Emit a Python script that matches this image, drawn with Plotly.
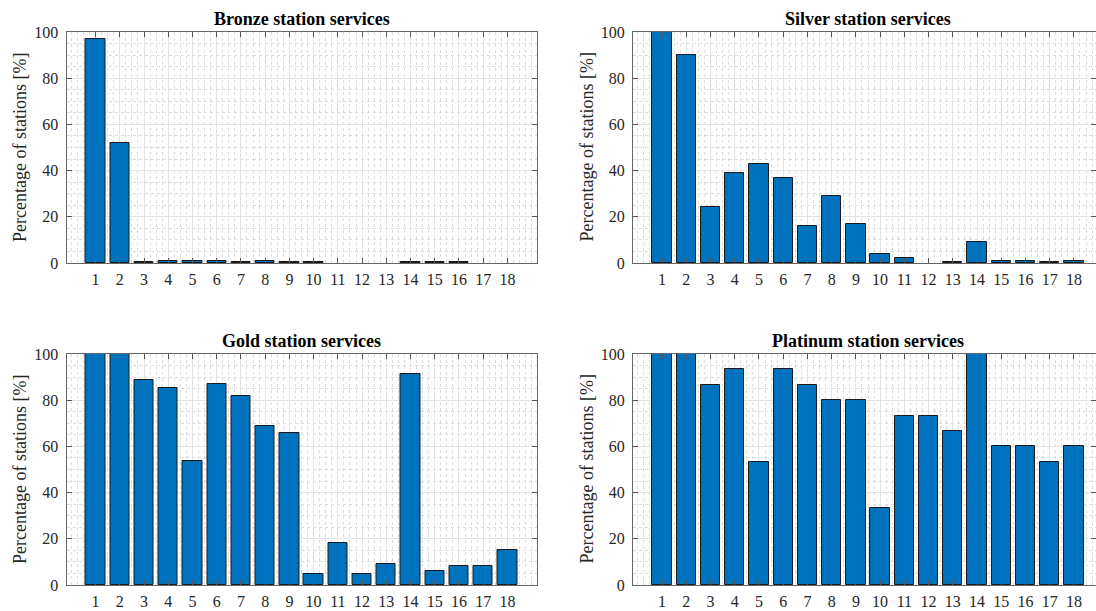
import plotly.graph_objects as go
from plotly.subplots import make_subplots

services = list(range(1, 19))
tick_labels = [str(i) for i in services]

bronze = [97, 52, 0.3, 1, 1, 1, 0.3, 1, 0.3, 0.3, 0, 0, 0, 0.3, 0.3, 0.3, 0, 0]
silver = [100, 90, 24.2, 38.8, 42.7, 36.8, 16.0, 29.1, 16.9, 3.9, 2.0, 0, 0.3, 8.9, 1.0, 1.0, 0.3, 1.0]
gold = [100, 100, 88.9, 85.1, 53.5, 87.2, 81.8, 69.0, 65.8, 4.9, 18.3, 4.9, 8.9, 91.2, 6.2, 8.1, 8.1, 15.0]
platinum = [100, 100, 86.67, 93.33, 53.33, 93.33, 86.67, 80, 80, 33.33, 73.33, 73.33, 66.67, 100, 60, 60, 53.33, 60]

titles = ["Bronze station services", "Silver station services",
          "Gold station services", "Platinum station services"]
series = [bronze, silver, gold, platinum]
y_title = "Percentage of stations [%]"

W, H = 1096, 611
FONT = "Liberation Serif, Times New Roman, serif"

# pixel geometry of the four plot areas (left, right, top, bottom)
panels = [(66.5, 536.5, 32, 263), (633, 1103, 32, 263),
          (66.5, 536.5, 354, 585), (633, 1103, 354, 585)]

fig = make_subplots(rows=2, cols=2)

for i, vals in enumerate(series):
    r, c = i // 2 + 1, i % 2 + 1
    shown = [v if v > 0 else None for v in vals]
    fig.add_trace(go.Bar(x=services, y=shown, width=0.8,
                         marker=dict(color="#0072BD", line=dict(color="#1a1a1a", width=1)),
                         showlegend=False), row=r, col=c)

for i, (l, rgt, t, b) in enumerate(panels):
    idx = "" if i == 0 else str(i + 1)
    units_per_px = 19.4 / (rgt - l)
    x0 = -0.2
    if rgt > W:
        x1 = x0 + (W - l) * units_per_px
        xd = [l / W, 1.0]
    else:
        x1 = 19.2
        xd = [l / W, rgt / W]
    yd = [1 - b / H, 1 - t / H]
    fig.layout["xaxis" + idx].update(
        domain=xd, range=[x0, x1], tickvals=services, ticktext=tick_labels,
        ticks="inside", ticklen=5, tickcolor="#555555", mirror="ticks",
        showline=True, linecolor="#666666", linewidth=1, automargin=False,
        showgrid=True, gridcolor="#e3e3e3", gridwidth=1,
        minor=dict(dtick=0.25, tick0=0, showgrid=True, gridcolor="#dcdcdc",
                   griddash="dot", gridwidth=1, ticks=""),
        zeroline=False, ticklabelstandoff=2,
        tickfont=dict(family=FONT, size=16, color="#262626"))
    fig.layout["yaxis" + idx].update(
        domain=yd, range=[0, 100], tickvals=[0, 20, 40, 60, 80, 100],
        ticks="inside", ticklen=5, tickcolor="#555555", mirror="ticks",
        showline=True, linecolor="#666666", linewidth=1, automargin=False,
        showgrid=True, gridcolor="#e3e3e3", gridwidth=1,
        minor=dict(dtick=5, tick0=0, showgrid=True, gridcolor="#dcdcdc",
                   griddash="dot", gridwidth=1, ticks=""),
        zeroline=False, ticklabelstandoff=4,
        tickfont=dict(family=FONT, size=16, color="#262626"))
    # title
    fig.add_annotation(x=((l + rgt) / 2) / W, y=1 - (t - 13) / H, xref="paper", yref="paper",
                       text="<b>" + titles[i] + "</b>", showarrow=False,
                       font=dict(family=FONT, size=18, color="#000000"),
                       xanchor="center", yanchor="middle")
    # y axis title
    fig.add_annotation(x=(l - 47) / W, y=1 - ((t + b) / 2) / H, xref="paper", yref="paper",
                       text=y_title, textangle=-90, showarrow=False,
                       font=dict(family=FONT, size=18, color="#262626"),
                       xanchor="center", yanchor="middle")

fig.update_layout(template="none", width=W, height=H, margin=dict(l=0, r=0, t=0, b=0, pad=0),
                  paper_bgcolor="white", plot_bgcolor="white", bargap=0,
                  font=dict(family=FONT))

fig.write_html("out.html")
